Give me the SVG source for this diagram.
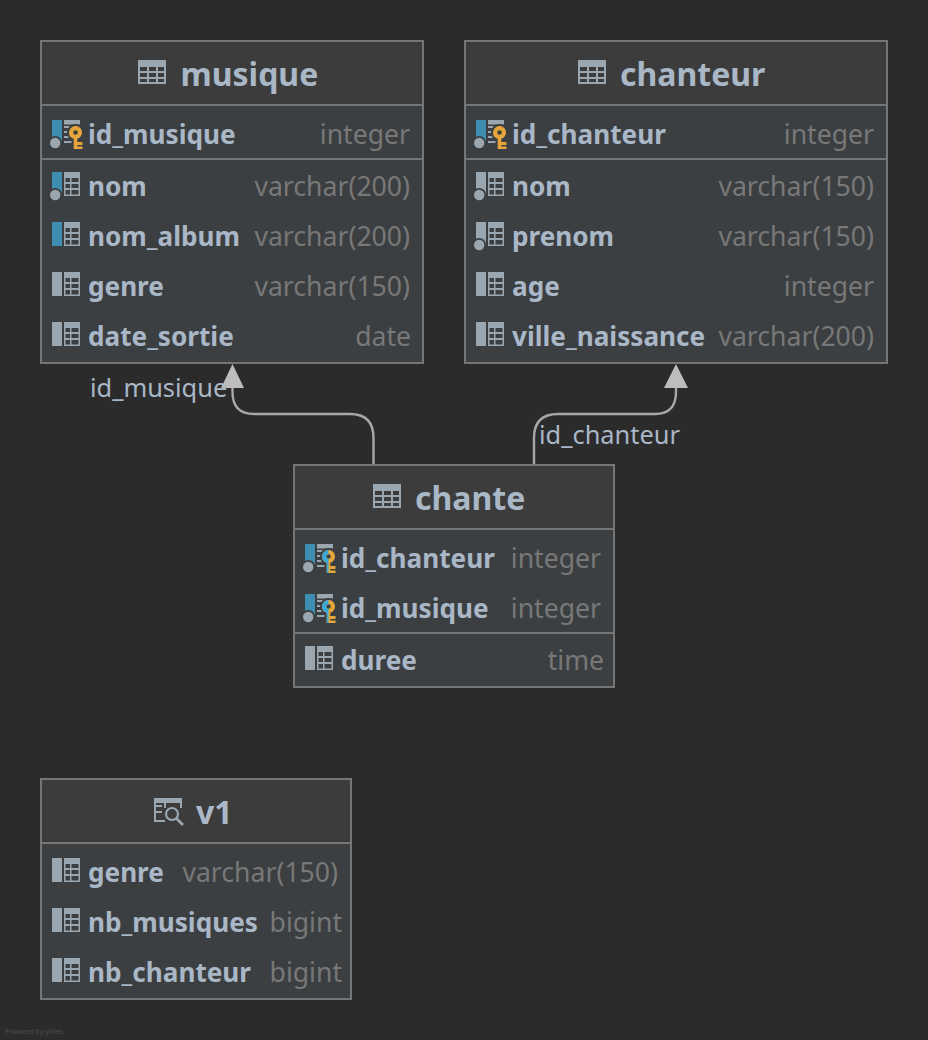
<svg xmlns="http://www.w3.org/2000/svg" width="928" height="1040" viewBox="0 0 928 1040">
<style>
text{font-family:"Noto Sans","Open Sans",sans-serif}
.bg{fill:#3c3f41;stroke:#757575;stroke-width:2}
.hd{fill:#3c3c3c;stroke:#757575;stroke-width:2}
.ln{stroke:#757575;stroke-width:2;fill:none}
.title{font-size:32px;font-weight:700;fill:#a9b7c6}
.name{font-size:26.15px;font-weight:700;fill:#a9b7c6}
.type{font-size:26.6px;fill:#787878;text-anchor:end}
.lbl{font-size:25.4px;fill:#a9b7c6}
.conn{fill:none;stroke:#a8a8a8;stroke-width:2.4}
.arr{fill:#bdbdbd}
.ic{fill:#9aa7b0}
.wm{font-size:7px;fill:#4d4d4d}
</style>
<defs>
<clipPath id="lh"><rect x="-9" y="-9" width="9" height="30"/></clipPath>
<path id="grid" class="ic" fill-rule="evenodd" d="M0 0H16V24H0ZM1.500 6V10H6V6ZM7.500 6V10H14.500V6ZM1.500 12V16H6V12ZM7.500 12V16H14.500V12ZM1.500 18V22.500H6V18ZM7.500 18V22.500H14.500V18Z"/>
<path id="t" class="ic" fill-rule="evenodd" d="M0 0H28V24H0ZM2 7V11H9V7ZM11 7V11H18V7ZM20 7V11H26V7ZM2 13V17H9V13ZM11 13V17H18V13ZM20 13V17H26V13ZM2 19V22H9V19ZM11 19V22H18V19ZM20 19V22H26V19Z"/>
<g id="dot"><circle cx="3.200" cy="23" r="7" fill="#3c3f41"/><circle class="ic" cx="3.200" cy="23" r="5.200"/></g>
<g id="plain"><rect class="ic" width="10" height="24"/><use href="#grid" x="12"/></g>
<g id="nn"><rect class="ic" width="10" height="24"/><use href="#dot"/><use href="#grid" x="12"/></g>
<g id="idx"><rect fill="#3d8eb0" width="10" height="24"/><use href="#grid" x="12"/></g>
<g id="nnidx"><rect fill="#3d8eb0" width="10" height="24"/><use href="#dot"/><use href="#grid" x="12"/></g>
<path id="keyp" fill-rule="evenodd" d="M-6.500 0A6.500 6.500 0 1 1 1.800 6.250V9.500H7V12.500H1.800V14H7V16.500H-1.800V6.250A6.500 6.500 0 0 1 -6.500 0ZM-2.300 0A2.300 2.300 0 1 0 2.300 0A2.300 2.300 0 1 0 -2.300 0Z"/>
<g id="pkbase"><rect fill="#3d8eb0" width="10" height="24"/><use href="#dot"/><path class="ic" d="M12 0H28V4.500H12ZM12 6H18V8H12ZM12 11H17V13H12ZM12 16H17V18H12ZM12 21H20V23H12Z"/><circle cx="23.500" cy="12.500" r="8.500" fill="#3c3f41"/><rect x="19.500" y="18" width="11" height="12" fill="#3c3f41"/></g>
<g id="pk"><use href="#pkbase"/><use href="#keyp" x="23.500" y="12.500" fill="#e4a63a"/></g>
<g id="pkfk"><use href="#pkbase"/><use href="#keyp" x="23.500" y="12.500" fill="#e4a63a"/><g transform="translate(23.500 12.500)"><use href="#keyp" fill="#3aa8d8" clip-path="url(#lh)"/></g></g>
<g id="view"><path class="ic" fill-rule="evenodd" d="M0 0H28V5H0Z"/><path class="ic" d="M0 5H2V24H0ZM2 7H8V9H2ZM2 13H8V15H2ZM2 22H11V24H2ZM26 5H28V10H26ZM10 5H12V10H10Z"/><circle cx="18" cy="16" r="6" fill="none" stroke="#9aa7b0" stroke-width="2.200"/><path d="M22.500 20.500L29 27" stroke="#9aa7b0" stroke-width="2.600"/></g>
</defs>
<rect width="928" height="1040" fill="#2b2b2b"/>

<g id="connectors">
<path class="conn" d="M373.500 464V438Q373.500 414 350 414H254Q232.500 414 232.500 392V386"/>
<path class="arr" d="M232.500 364L244 388H221Z"/>
<path class="conn" d="M534 464V438Q534 414 558 414H655Q676 414 676 392V386"/>
<path class="arr" d="M676 364L688 388H664Z"/>
<text class="lbl" x="90" y="397">id_musique</text>
<text class="lbl" x="539" y="444">id_chanteur</text>
</g>

<g id="musique">
<rect class="bg" x="41" y="41" width="382" height="322"/>
<rect class="hd" x="41" y="41" width="382" height="64"/>
<use href="#t" x="138" y="60"/>
<text class="title" x="180.500" y="86">musique</text>
<path class="ln" d="M41 159H423"/>
<use href="#pk" x="52" y="120"/><text class="name" x="88" y="144">id_musique</text><text class="type" x="410" y="143.500">integer</text>
<use href="#nnidx" x="52" y="172"/><text class="name" x="88" y="196">nom</text><text class="type" x="410" y="195.500">varchar(200)</text>
<use href="#idx" x="52" y="222"/><text class="name" x="88" y="246">nom_album</text><text class="type" x="410" y="245.500">varchar(200)</text>
<use href="#plain" x="52" y="272"/><text class="name" x="88" y="296">genre</text><text class="type" x="410" y="295.500">varchar(150)</text>
<use href="#plain" x="52" y="322"/><text class="name" x="88" y="346">date_sortie</text><text class="type" x="411" y="345.500">date</text>
</g>

<g id="chanteur">
<rect class="bg" x="465" y="41" width="422" height="322"/>
<rect class="hd" x="465" y="41" width="422" height="64"/>
<use href="#t" x="578" y="60"/>
<text class="title" x="620" y="86">chanteur</text>
<path class="ln" d="M465 159H887"/>
<use href="#pk" x="476" y="120"/><text class="name" x="512" y="144">id_chanteur</text><text class="type" x="874" y="143.500">integer</text>
<use href="#nn" x="476" y="172"/><text class="name" x="512" y="196">nom</text><text class="type" x="874" y="195.500">varchar(150)</text>
<use href="#nn" x="476" y="222"/><text class="name" x="512" y="246">prenom</text><text class="type" x="874" y="245.500">varchar(150)</text>
<use href="#plain" x="476" y="272"/><text class="name" x="512" y="296">age</text><text class="type" x="874" y="295.500">integer</text>
<use href="#plain" x="476" y="322"/><text class="name" x="512" y="346">ville_naissance</text><text class="type" x="874" y="345.500">varchar(200)</text>
</g>

<g id="chante">
<rect class="bg" x="294" y="465" width="320" height="222"/>
<rect class="hd" x="294" y="465" width="320" height="64"/>
<use href="#t" x="373" y="484"/>
<text class="title" x="415" y="510">chante</text>
<path class="ln" d="M294 633H614"/>
<use href="#pkfk" x="305" y="544"/><text class="name" x="341" y="568">id_chanteur</text><text class="type" x="601" y="567.500">integer</text>
<use href="#pkfk" x="305" y="594"/><text class="name" x="341" y="618">id_musique</text><text class="type" x="601" y="617.500">integer</text>
<use href="#plain" x="305" y="646"/><text class="name" x="341" y="670">duree</text><text class="type" x="604" y="669.500">time</text>
</g>

<g id="v1">
<rect class="bg" x="41" y="779" width="310" height="220"/>
<rect class="hd" x="41" y="779" width="310" height="64"/>
<use href="#view" x="154" y="798"/>
<text class="title" x="196" y="824">v1</text>
<use href="#plain" x="52" y="858"/><text class="name" x="88" y="882">genre</text><text class="type" x="338" y="881.500">varchar(150)</text>
<use href="#plain" x="52" y="908"/><text class="name" x="88" y="932">nb_musiques</text><text class="type" x="342" y="931.500">bigint</text>
<use href="#plain" x="52" y="958"/><text class="name" x="88" y="982">nb_chanteur</text><text class="type" x="342" y="981.500">bigint</text>
</g>

<text class="wm" x="5" y="1034">Powered by yFiles</text>
</svg>
